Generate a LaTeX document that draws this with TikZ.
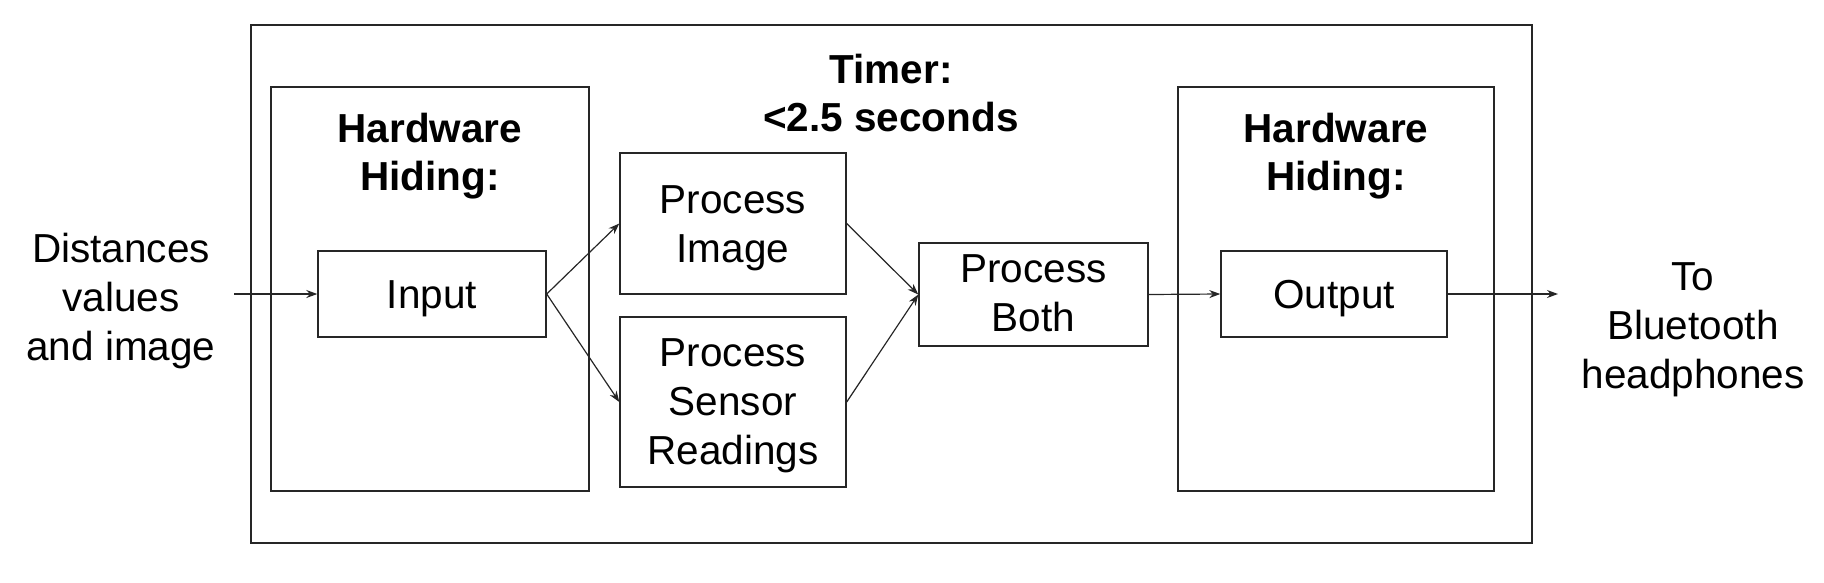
\documentclass[tikz,border=0pt]{standalone}
\usepackage{fontspec}
\setmainfont{Liberation Sans}
\usetikzlibrary{arrows.meta}
\begin{document}
\begin{tikzpicture}[x=1pt,y=-1pt,
  box/.style={draw=black!85,line width=1.4pt,inner sep=0pt},
  txt/.style={inner sep=0pt,align=center,font=\fontsize{40.5}{49}\selectfont},
  ttl/.style={inner sep=0pt,align=center,font=\fontsize{40.5}{48}\selectfont\bfseries},
  conn/.style={draw=black!85,line width=1.2pt,-{Stealth[length=11pt,width=8pt]}}]
\useasboundingbox (0,0) rectangle (1824,582);
\node[box,minimum width=1281pt,minimum height=518pt] (outer) at (891.5,284) {};
\node[box,minimum width=318pt,minimum height=404pt] (hwL) at (430,289) {};
\node[box,minimum width=316pt,minimum height=404pt] (hwR) at (1336,289) {};
\node[ttl] (timer) at (891,93) {Timer:\\<2.5 seconds};
\node[ttl] (hwLt) at (430,156) {Hardware\\Hiding:};
\node[ttl] (hwRt) at (1336,156) {Hardware\\Hiding:};
\node[box,minimum width=228pt,minimum height=86pt] (input) at (432,294) {};
\node[box,minimum width=226pt,minimum height=141pt] (pimg) at (733,223.5) {};
\node[box,minimum width=226pt,minimum height=170pt] (psen) at (733,402) {};
\node[box,minimum width=229pt,minimum height=103pt] (pboth) at (1033.5,294.5) {};
\node[box,minimum width=226pt,minimum height=86pt] (output) at (1334,294) {};
\node[txt] (inputT) at (432,299) {Input};
\node[txt] (pimgT) at (733,228.5) {Process\\Image};
\node[txt] (psenT) at (733,405.5) {Process\\Sensor\\Readings};
\node[txt] (pbothT) at (1033.5,293.5) {Process\\Both};
\node[txt] (outputT) at (1334,299) {Output};
\node[txt] (dist) at (121,301.5) {Distances\\values\\and image};
\node[txt] (bt) at (1693,329.5) {To\\Bluetooth\\headphones};
\coordinate (start) at (234,294);
\coordinate (finish) at (1558,294);
\draw[conn] (start) -- (input.west);
\draw[conn] (input.east) -- (pimg.west);
\draw[conn] (input.east) -- (psen.west);
\draw[conn] (pimg.east) -- (pboth.west);
\draw[conn] (psen.east) -- (pboth.west);
\draw[conn] (pboth.east) -- (output.west);
\draw[conn] (output.east) -- (finish);
\end{tikzpicture}
\end{document}
